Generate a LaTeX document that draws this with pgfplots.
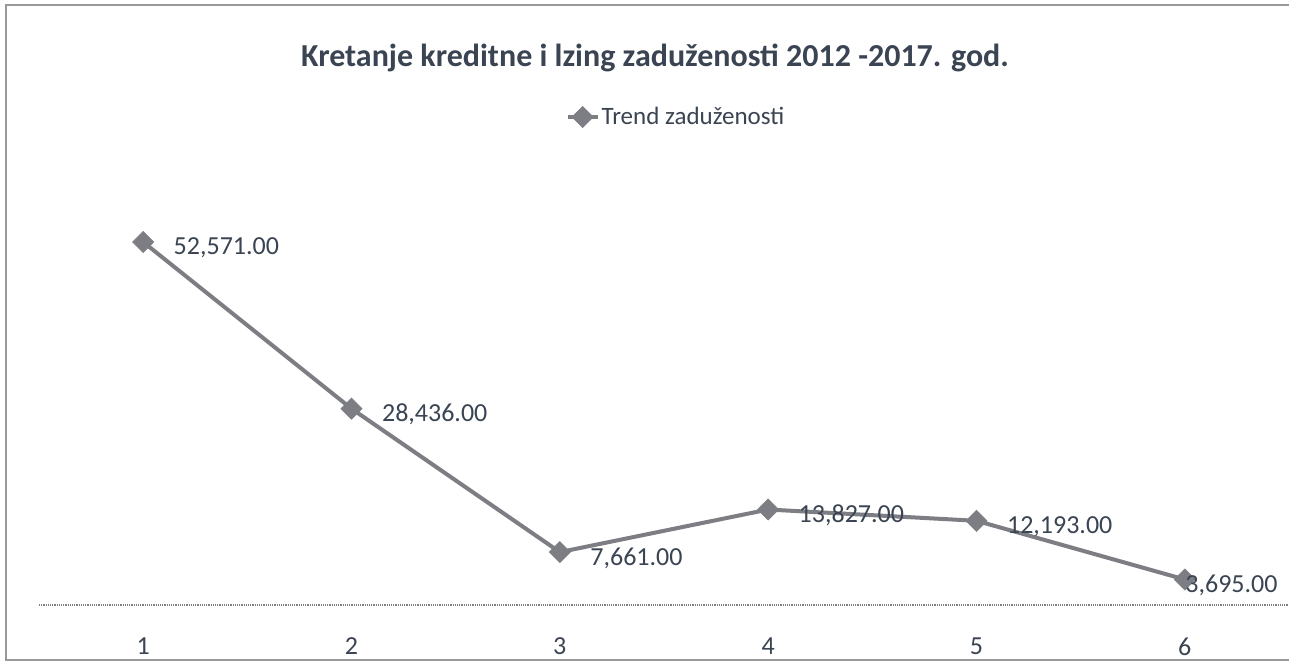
\documentclass[border=0pt]{standalone}
\usepackage{pgfplots}
\pgfplotsset{compat=1.18}
\usepackage{pgfplotstable}
\usepackage{fontspec}
\setmainfont{Carlito}
\definecolor{txt}{RGB}{58,68,82}
\definecolor{ln}{RGB}{125,125,132}
\pgfplotstableread{
x y label
1 52571 52,571.00
2 28436 28,436.00
3 7661 7,661.00
4 13827 13,827.00
5 12193 12,193.00
6 3695 3,695.00
}\trend
\begin{document}
\begin{tikzpicture}
\useasboundingbox (0,0) rectangle (1289pt,666pt);
\clip (0,0) rectangle (1289pt,666pt);
\fill[white] (0,0) rectangle (1289pt,666pt);
\draw[gray!80, line width=1.5pt] (1289pt,661pt) -- (6pt,661pt) -- (6pt,6pt) -- (1289pt,6pt);
\node[font=\fontsize{32}{38}\selectfont\bfseries, text=txt] at (655pt,608pt) {Kretanje kreditne i lzing zaduženosti 2012 -2017. god.};
\begin{axis}[
  at={(39pt,61pt)}, anchor=south west,
  scale only axis, width=1250pt, height=455pt,
  xmin=0.5, xmax=6.5, ymin=0, ymax=65900,
  axis x line*=bottom, hide y axis,
  x axis line style={-, densely dotted, gray, line width=1.2pt},
  xtick={1,2,3,4,5,6}, xtick style={draw=none},
  /pgf/number format/assume math mode=true,
  xticklabel style={font=\fontsize{26}{30}\selectfont, text=txt, yshift=-29pt},
  clip=false,
  legend style={at={(axis description cs:0.5096,1.0725)}, anchor=center, draw=none, fill=none,
    font=\fontsize{25}{30}\selectfont, text=txt, legend cell align=left},
  legend image code/.code={
    \draw[#1, mark repeat=2, mark phase=2] plot coordinates {(0pt,0pt) (15pt,0pt) (30pt,0pt)};
  },
]
\addplot[color=ln, line width=4pt, mark=square*, mark size=7.5pt,
  mark options={rotate=45, fill=ln, draw=ln, line width=0.5pt},
  point meta=explicit symbolic,
  visualization depends on={\thisrow{x} \as \xval},
  nodes near coords,
  nodes near coords style={anchor=west, xshift={(\xval==6 ? -3 : 27)*1pt}, yshift=-6pt, font=\fontsize{26}{30}\selectfont, text=txt},
] table[x=x, y=y, meta=label] {\trend};
\addlegendentry{Trend zaduženosti}
\end{axis}
\end{tikzpicture}
\end{document}
